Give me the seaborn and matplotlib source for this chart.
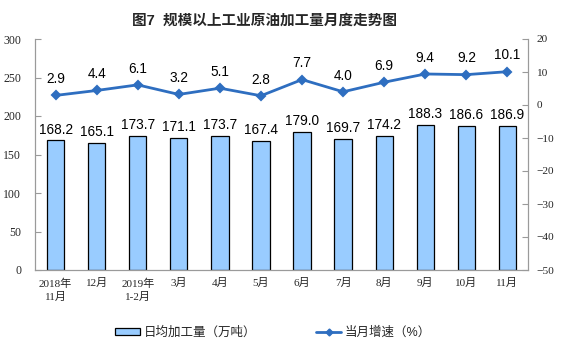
import numpy as np
import pandas as pd
import matplotlib
matplotlib.use('Agg')
import matplotlib.pyplot as plt
from matplotlib.patches import Patch
from matplotlib.lines import Line2D
import seaborn as sns

# 数据
months = ['2018年\n11月', '12月', '2019年\n1-2月', '3月', '4月', '5月',
          '6月', '7月', '8月', '9月', '10月', '11月']
daily_output = [168.2, 165.1, 173.7, 171.1, 173.7, 167.4,
                179.0, 169.7, 174.2, 188.3, 186.6, 186.9]
growth = [2.9, 4.4, 6.1, 3.2, 5.1, 2.8, 7.7, 4.0, 6.9, 9.4, 9.2, 10.1]

bar_color = '#99CCFF'
line_color = '#2E6EC0'
axis_color = '#9A9A9A'

sns.set_style('white')
plt.rcParams['font.family'] = ['Liberation Sans', 'Noto Sans CJK SC']
serif_fam = ['Liberation Serif', 'Noto Sans CJK SC']

df = pd.DataFrame({'month': months, 'output': daily_output, 'growth': growth})

fig = plt.figure(figsize=(5.61, 3.57), dpi=100)
ax = fig.add_axes([35 / 561, 1 - 270 / 357, 493 / 561, 231 / 357])

sns.barplot(data=df, x='month', y='output', ax=ax, color=bar_color,
            edgecolor='black', linewidth=0.9, width=0.42, saturation=1)
ax.set_ylim(0, 300)
ax.set_yticks(range(0, 301, 50))
ax.set_xlim(-0.5, len(months) - 0.5)
ax.set_xlabel('')
ax.set_ylabel('')

for i, v in enumerate(daily_output):
    ax.text(i, v + 5, f'{v:.1f}', ha='center', va='bottom', fontsize=9.8,
            color='black')

ax2 = ax.twinx()
sns.pointplot(data=df, x='month', y='growth', ax=ax2, color=line_color,
              markers='D', markersize=4, linewidth=2)
ax2.set_ylim(-50, 20)
ax2.set_yticks(range(-50, 21, 10))
ax2.set_xlim(-0.5, len(months) - 0.5)
ax2.set_xlabel('')
ax2.set_ylabel('')
for i, v in enumerate(growth):
    ax2.text(i, v + 2.8, f'{v:.1f}', ha='center', va='bottom', fontsize=9.8,
             color='black')

# 坐标轴样式
for a in (ax, ax2):
    for s in a.spines.values():
        s.set_color(axis_color)
        s.set_linewidth(0.8)
    a.spines['top'].set_visible(False)

ax.set_xticks(np.arange(-0.5, len(months), 1), minor=True)
ax.set_xticks(range(len(months)))
ax.set_xticklabels(months, family=serif_fam, fontsize=8, linespacing=1.4)
ax.tick_params(axis='x', which='major', length=0, pad=6)
ax.tick_params(axis='x', which='minor', direction='in', length=4,
               color=axis_color)
ax.tick_params(axis='y', direction='in', length=4, color=axis_color,
               labelsize=8.5, pad=10)
for lbl in ax.get_yticklabels():
    lbl.set_family(serif_fam)
ax2.tick_params(axis='y', direction='in', length=4, color=axis_color,
                labelsize=8.2, pad=6)
for lbl in ax2.get_yticklabels():
    lbl.set_family(serif_fam)
ax2.tick_params(axis='x', length=0)

fig.text(265 / 561, 1 - 21 / 357, '图7  规模以上工业原油加工量月度走势图',
         ha='center', va='center', fontsize=10.5, fontweight='bold')

handles = [
    Patch(facecolor=bar_color, edgecolor='black', linewidth=0.9,
          label='日均加工量（万吨）'),
    Line2D([0], [0], color=line_color, linewidth=2, marker='D',
           markersize=3.5, label='当月增速（%）'),
]
fig.legend(handles=handles, loc='center', bbox_to_anchor=(273 / 561, 1 - 333 / 357),
           ncol=2, frameon=False, fontsize=9, columnspacing=4.8,
           handlelength=2.0, handleheight=0.5, handletextpad=0.3)

fig.savefig('out.png', dpi=100)
